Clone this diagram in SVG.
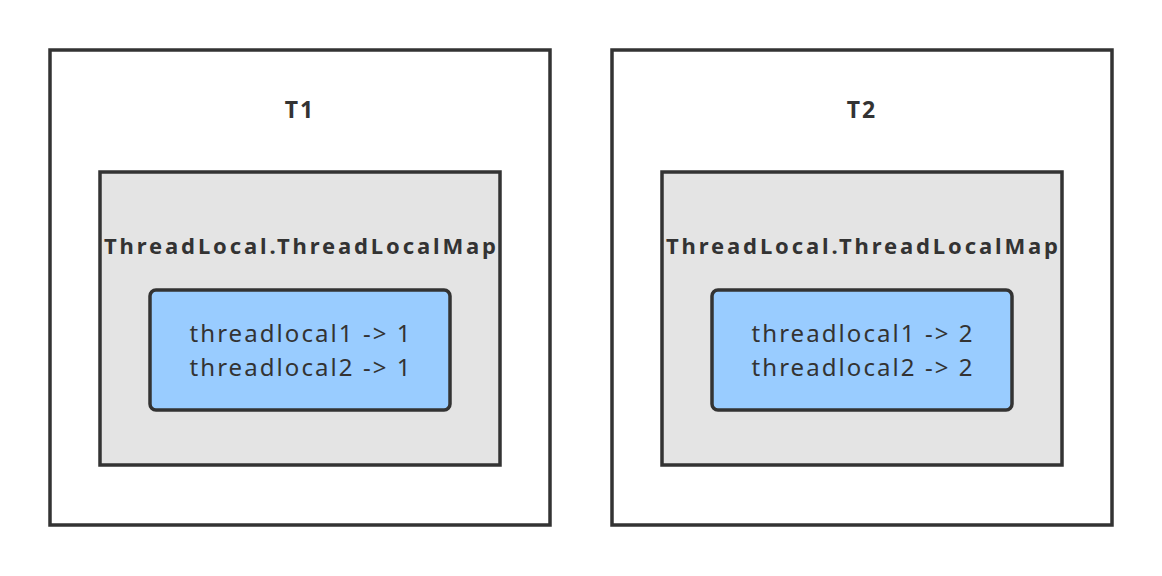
<svg xmlns="http://www.w3.org/2000/svg" width="1162" height="576" viewBox="0 0 1162 576">
<style>
.outer{fill:#ffffff;stroke:#333333;stroke-width:3.5}
.map{fill:#e4e4e4;stroke:#333333;stroke-width:3.5}
.entry{fill:#99ccff;stroke:#333333;stroke-width:3.5}
.title{font-family:"Noto Sans","Open Sans",sans-serif;font-weight:bold;font-size:22px;fill:#333333;text-anchor:middle}
.big{font-size:23px}
.body{font-family:"Noto Sans","Open Sans",sans-serif;font-size:24px;fill:#333333;text-anchor:middle}
</style>
<rect width="1162" height="576" fill="#ffffff"/>
<g id="T1">
<rect class="outer" x="50" y="50" width="500" height="475"/>
<text class="title big" x="300" y="118" letter-spacing="2">T1</text>
</g>
<g id="T1-map">
<rect class="map" x="100" y="172" width="400" height="293"/>
<text class="title" x="300" y="254" textLength="392" lengthAdjust="spacing">ThreadLocal.ThreadLocalMap</text>
</g>
<g id="T1-entries">
<rect class="entry" x="150" y="290" width="300" height="120" rx="6"/>
<text class="body" x="300" y="342" textLength="221" lengthAdjust="spacing">threadlocal1 -&gt; 1</text>
<text class="body" x="300" y="376" textLength="221" lengthAdjust="spacing">threadlocal2 -&gt; 1</text>
</g>
<g id="T2">
<rect class="outer" x="612" y="50" width="500" height="475"/>
<text class="title big" x="862" y="118" letter-spacing="2">T2</text>
</g>
<g id="T2-map">
<rect class="map" x="662" y="172" width="400" height="293"/>
<text class="title" x="862" y="254" textLength="392" lengthAdjust="spacing">ThreadLocal.ThreadLocalMap</text>
</g>
<g id="T2-entries">
<rect class="entry" x="712" y="290" width="300" height="120" rx="6"/>
<text class="body" x="862" y="342" textLength="221" lengthAdjust="spacing">threadlocal1 -&gt; 2</text>
<text class="body" x="862" y="376" textLength="221" lengthAdjust="spacing">threadlocal2 -&gt; 2</text>
</g>
<g id="connectors"></g>
</svg>
